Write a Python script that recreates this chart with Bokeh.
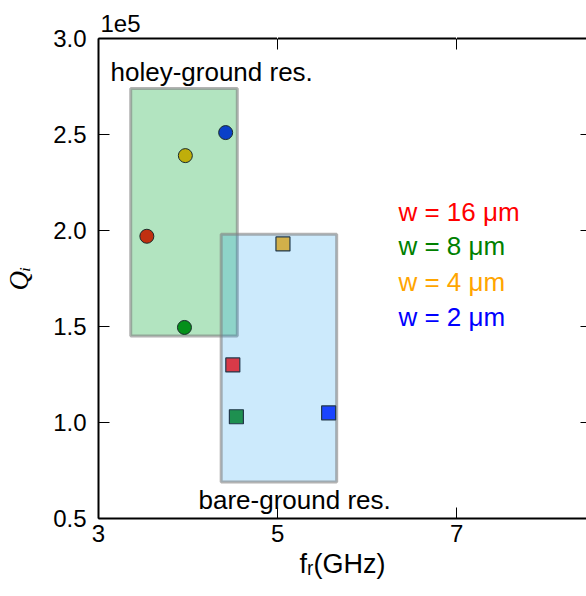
from bokeh.plotting import figure
from bokeh.models import (FixedTicker, NumeralTickFormatter, LinearAxis, Label,
                          ColumnDataSource, Range1d)
from bokeh.embed import file_html
from bokeh.resources import INLINE

# ---- data (Qi in units of 1e5, fr in GHz) ----
widths = ["w = 16 μm", "w = 8 μm", "w = 4 μm", "w = 2 μm"]
width_colors = ["#ff0000", "#008000", "#ffa500", "#0000ff"]

holey_fr = [3.54, 3.96, 3.97, 4.42]
holey_qi = [1.97, 1.495, 2.39, 2.51]
holey_colors = ["#c03010", "#05901a", "#bfae0a", "#0a40c8"]

bare_fr = [4.50, 4.54, 5.06, 5.57]
bare_qi = [1.30, 1.03, 1.93, 1.05]
bare_colors = ["#d83a48", "#1e9050", "#d2b04a", "#1a44ff"]

# shaded regions: left, right, bottom, top
holey_box = [3.36, 4.55, 1.45, 2.74]
bare_box = [4.37, 5.66, 0.69, 1.98]

x_ticks = [3, 5, 7]
y_ticks = [0.5, 1.0, 1.5, 2.0, 2.5, 3.0]

FONT = "Liberation Sans"
SERIF = "Liberation Serif"
FS = "24px"
AFS = "26px"

p = figure(width=586, height=596, output_backend="svg", toolbar_location=None,
           x_range=Range1d(3, 8.45), y_range=Range1d(0.5, 3.0),
           min_border_left=98, min_border_right=0, min_border_top=38,
           min_border_bottom=78, x_axis_location=None, y_axis_location=None)
p.outline_line_color = None
p.grid.visible = False
p.background_fill_color = "white"
p.border_fill_color = "white"

p.title.text = "1e5"
p.title.text_font = FONT
p.title.text_font_size = FS
p.title.text_font_style = "normal"
p.title.text_color = "black"
p.title.align = "left"
p.title.offset = 2
p.title.standoff = 0


def style_axis(ax, labels=True, tick_in=11):
    ax.axis_line_width = 2
    ax.axis_line_color = "black"
    ax.major_tick_in = tick_in
    ax.major_tick_out = 0
    ax.major_tick_line_width = 1
    ax.minor_tick_line_color = None
    if labels:
        ax.major_label_text_font = FONT
        ax.major_label_text_font_size = FS
        ax.major_label_text_color = "black"
    else:
        ax.major_label_text_font_size = "1px"
        ax.major_label_text_color = None
        ax.major_label_standoff = 0


bottom = LinearAxis(ticker=FixedTicker(ticks=x_ticks),
                    formatter=NumeralTickFormatter(format="0"))
style_axis(bottom)
bottom.major_label_standoff = 6
bottom.axis_label = "fᵣ(GHz)"
bottom.axis_label_text_font = FONT
bottom.axis_label_text_font_style = "normal"
bottom.axis_label_text_font_size = "27px"
bottom.axis_label_text_color = "black"
bottom.axis_label_standoff = 4
p.add_layout(bottom, "below")

left = LinearAxis(ticker=FixedTicker(ticks=y_ticks),
                  formatter=NumeralTickFormatter(format="0.0"))
style_axis(left)
left.major_label_standoff = 12
left.axis_label = "Qᵢ"
left.axis_label_text_font = SERIF
left.axis_label_text_font_style = "italic"
left.axis_label_text_font_size = "27px"
left.axis_label_text_color = "black"
left.axis_label_standoff = 16
p.add_layout(left, "left")

top = LinearAxis(ticker=FixedTicker(ticks=x_ticks))
style_axis(top, labels=False)
p.add_layout(top, "above")

# invisible spacer so that the "1e5" offset text sits a little above the frame
spacer = LinearAxis(ticker=FixedTicker(ticks=[5, 7]))
style_axis(spacer, labels=False, tick_in=0)
spacer.axis_line_color = None
spacer.major_tick_out = 7
spacer.major_tick_line_color = "white"
p.add_layout(spacer, "above")

right = LinearAxis(ticker=FixedTicker(ticks=y_ticks))
style_axis(right, labels=False, tick_in=6)
right.axis_line_color = None
p.add_layout(right, "right")

# shaded boxes
p.quad(left=[holey_box[0]], right=[holey_box[1]], bottom=[holey_box[2]], top=[holey_box[3]],
       fill_color="#00a52d", fill_alpha=0.3, line_color="gray", line_alpha=0.6, line_width=3)
p.quad(left=[bare_box[0]], right=[bare_box[1]], bottom=[bare_box[2]], top=[bare_box[3]],
       fill_color="#0096f0", fill_alpha=0.2, line_color="gray", line_alpha=0.6, line_width=3)

# points
p.scatter(x="x", y="y", marker="circle", size=14, fill_color="c", line_color="#1a2a2a",
          line_width=1, source=ColumnDataSource(dict(x=holey_fr, y=holey_qi, c=holey_colors)))
p.scatter(x="x", y="y", marker="square", size=14, fill_color="c", line_color="#22384a",
          line_width=1.2, source=ColumnDataSource(dict(x=bare_fr, y=bare_qi, c=bare_colors)))

# annotations
p.add_layout(Label(x=3.134, y=2.823, text="holey-ground res.", text_font=FONT,
                   text_font_size=AFS, text_baseline="middle", text_color="black"))
p.add_layout(Label(x=4.117, y=0.594, text="bare-ground res.", text_font=FONT,
                   text_font_size=AFS, text_baseline="middle", text_color="black"))
leg_y = [2.094, 1.917, 1.734, 1.552]
for t, c, yy in zip(widths, width_colors, leg_y):
    p.add_layout(Label(x=6.35, y=yy, text=t, text_font=FONT, text_font_size=AFS,
                       text_baseline="middle", text_color=c))

open("out.html", "w").write(file_html(p, INLINE))
